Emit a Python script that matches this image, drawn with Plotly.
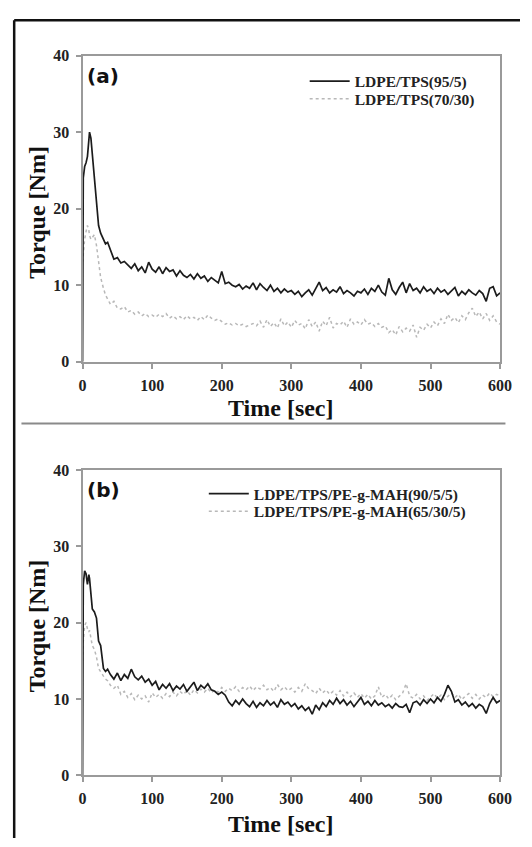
import plotly.graph_objects as go

# ---------------- data ----------------
TIME = [0, 1, 3, 5, 7, 9, 10, 12, 14, 17, 20, 23, 26, 30, 33, 36, 40,
        45, 50, 55, 60, 65, 70, 75, 80, 85, 90, 95, 100,
        105, 110, 115, 120, 125, 130, 135, 140, 145, 150, 155, 160, 165, 170, 175, 180, 185, 190, 195, 200,
        205, 210, 215, 220, 225, 230, 235, 240, 245, 250, 255, 260, 265, 270, 275, 280, 285, 290, 295, 300,
        305, 310, 315, 320, 325, 330, 335, 340, 345, 350, 355, 360, 365, 370, 375, 380, 385, 390, 395, 400,
        405, 410, 415, 420, 425, 430, 435, 440, 445, 450, 455, 460, 465, 470, 475, 480, 485, 490, 495, 500,
        505, 510, 515, 520, 525, 530, 535, 540, 545, 550, 555, 560, 565, 570, 575, 580, 585, 590, 595, 600]

LDPE_TPS_95_5 = [0, 24.0, 25.5, 26.0, 26.8, 29.0, 30.0, 29.2, 27.0, 24.0, 20.5, 17.8, 16.8, 16.0, 15.4, 15.6, 14.6,
    13.4, 13.6, 12.9, 13.1, 12.6, 12.2, 12.8, 11.9, 12.4, 11.6, 13.0, 12.1,
    11.7, 12.4, 11.5, 12.3, 11.8, 12.0, 11.2, 11.9, 11.3, 11.0, 11.4, 10.8, 11.5, 10.9, 11.2, 10.5, 11.0, 10.6, 10.3, 11.8,
    10.2, 10.4, 10.0, 9.8, 10.1, 9.5, 9.9, 9.6, 10.3, 9.4, 10.2, 9.7, 9.3, 10.0, 9.2, 9.6, 9.0, 9.5, 9.1, 9.3,
    8.8, 9.2, 8.5, 9.0, 9.4, 8.7, 9.6, 10.4, 9.3, 9.7, 9.0, 9.4, 9.1, 9.8, 8.9, 9.3, 9.0, 8.6, 9.2, 9.0,
    9.5, 8.8, 9.6, 9.2, 10.0, 9.1, 8.7, 10.9, 9.4, 8.8, 9.7, 10.4, 9.0, 10.2, 9.3, 9.6, 9.0, 9.8, 9.2, 9.5,
    8.9, 9.6, 9.1, 9.4, 8.8, 9.3, 9.7, 8.6, 9.2, 8.8, 9.4, 9.0, 8.7, 9.3, 8.9, 7.9, 9.6, 9.8, 8.6, 9.0]

LDPE_TPS_70_30 = [13.0, 14.5, 16.0, 17.0, 17.8, 17.2, 16.5, 16.0, 16.3, 16.6, 15.2, 13.2, 11.0, 9.6, 8.7, 8.2, 7.5,
    7.9, 7.0, 6.9, 7.2, 6.5, 6.7, 6.2, 6.5, 6.0, 6.3, 5.9, 6.1,
    5.8, 6.2, 5.9, 6.3, 5.7, 6.0, 5.6, 5.9, 5.5, 6.0, 5.6, 5.8, 5.4, 5.9, 5.5, 6.1, 5.7, 5.4, 5.6, 5.2,
    4.9, 5.1, 4.8, 5.0, 4.7, 4.9, 4.6, 4.8, 5.0, 4.7, 5.3, 4.5, 5.5, 4.6, 5.1, 4.4, 5.6, 4.7, 5.2, 4.5,
    5.4, 4.8, 5.0, 4.3, 5.5, 4.6, 5.2, 4.0, 5.3, 4.7, 5.8, 4.4, 5.0, 4.8, 5.3, 4.5, 5.6, 4.9, 5.2, 4.8,
    5.5, 4.9, 5.1, 4.6, 5.0, 4.5, 4.7, 3.8, 4.2, 3.5, 4.6, 3.9, 4.4, 4.0, 4.8, 3.2, 4.5, 4.1, 4.9, 4.4,
    5.2, 4.7, 5.6, 5.0, 6.2, 5.4, 5.8, 5.1, 6.0, 5.5, 6.4, 7.0, 5.9, 6.5, 5.6, 6.3, 5.4, 6.0, 5.2, 4.9]

MAH_90_5_5 = [0, 25.0, 26.8, 26.4, 25.0, 26.3, 25.8, 23.5, 21.8, 21.4, 20.6, 17.6, 17.0, 14.0, 13.6, 13.9, 13.2,
    12.6, 13.4, 12.4, 13.2, 12.7, 13.9, 12.9, 12.5, 13.0, 12.2, 12.6, 11.8,
    12.3, 11.2, 11.9, 11.4, 12.0, 11.1, 11.7, 11.3, 11.9, 11.0, 11.6, 12.2, 11.1, 11.8, 11.4, 12.0, 11.2, 11.0, 10.6, 10.9,
    10.5, 9.6, 9.1, 9.8, 9.3, 10.0, 9.4, 9.0, 9.7, 8.9, 9.5, 9.1, 9.8, 9.2, 9.6, 8.9, 9.9, 9.3, 9.6, 9.0,
    9.4, 8.7, 9.1, 8.5, 8.9, 8.0, 9.2, 8.6, 9.5, 9.0, 9.8, 9.3, 10.1, 9.4, 9.9, 9.2, 9.7, 9.0, 9.6, 10.2,
    9.3, 9.7, 9.1, 9.8, 9.2, 9.5, 9.0, 9.3, 8.8, 9.4, 9.0, 8.9, 9.3, 8.2, 9.5, 9.7, 9.2, 9.9, 9.4, 10.0,
    9.5, 10.2, 9.7, 10.6, 11.8, 11.0, 9.6, 9.9, 9.2, 9.6, 9.0, 9.4, 8.8, 9.3, 9.0, 8.1, 9.4, 10.2, 9.5, 9.8]

MAH_65_30_5 = [15.0, 17.5, 19.6, 20.0, 19.2, 18.8, 19.0, 18.2, 17.0, 16.5, 15.5, 14.0, 13.5, 13.0, 12.6, 12.4, 11.8,
    11.4, 11.8, 10.6, 11.0, 10.2, 10.7, 9.9, 10.5, 10.0, 10.4, 9.6, 10.8,
    10.2, 10.6, 10.1, 10.7, 10.3, 10.9, 10.4, 11.0, 10.6, 11.1, 10.5, 11.2, 10.8, 11.3, 10.9, 11.4, 10.8, 11.2, 10.9, 11.5,
    11.0, 11.4, 11.1, 11.6, 11.0, 11.5, 11.2, 11.7, 11.1, 11.6, 11.3, 11.8, 11.2, 11.5, 11.0, 11.9, 11.2, 11.6, 11.1, 11.4,
    10.9, 11.5, 11.0, 12.0, 11.3, 11.1, 10.7, 11.4, 10.8, 11.2, 10.6, 11.0, 10.5, 11.1, 10.4, 10.9, 10.3, 10.8, 10.2, 10.7,
    10.1, 10.6, 10.0, 10.4, 11.6, 10.2, 10.6, 10.0, 10.5, 9.9, 10.3, 10.8, 12.0, 10.4, 10.1, 10.6, 10.0, 10.4, 9.8, 10.3,
    10.7, 10.1, 10.5, 9.9, 10.4, 10.8, 10.2, 10.6, 9.9, 10.4, 10.7, 10.1, 10.6, 10.0, 10.5, 10.2, 10.8, 10.3, 10.6, 10.4]

for s in (LDPE_TPS_95_5, LDPE_TPS_70_30, MAH_90_5_5, MAH_65_30_5):
    if len(s) != len(TIME):
        raise ValueError(f"length mismatch {len(s)} vs {len(TIME)}")

X_TICKS = [0, 100, 200, 300, 400, 500, 600]
Y_TICKS = [0, 10, 20, 30, 40]

NAMES_A = ["LDPE/TPS(95/5)", "LDPE/TPS(70/30)"]
NAMES_B = ["LDPE/TPS/PE-g-MAH(90/5/5)", "LDPE/TPS/PE-g-MAH(65/30/5)"]

# ---------------- figure ----------------
W, H = 532, 847
def px(x):
    return x / W
def py(y):
    return 1 - y / H

DARK = dict(color="#1c1c1c", width=1.7)
LIGHT = dict(color="#b8b8b8", width=1.5, dash="dot")

fig = go.Figure()
# panel (a)
fig.add_trace(go.Scatter(x=TIME, y=LDPE_TPS_70_30, mode="lines", line=LIGHT, name=NAMES_A[1],
                         xaxis="x", yaxis="y", legend="legend2"))
fig.add_trace(go.Scatter(x=TIME, y=LDPE_TPS_95_5, mode="lines", line=DARK, name=NAMES_A[0],
                         xaxis="x", yaxis="y", legend="legend"))
# panel (b)
fig.add_trace(go.Scatter(x=TIME, y=MAH_65_30_5, mode="lines", line=LIGHT, name=NAMES_B[1],
                         xaxis="x2", yaxis="y2", legend="legend4"))
fig.add_trace(go.Scatter(x=TIME, y=MAH_90_5_5, mode="lines", line=DARK, name=NAMES_B[0],
                         xaxis="x2", yaxis="y2", legend="legend3"))

SERIF = "Liberation Serif, Times New Roman, serif"
tickfont = dict(family=SERIF, size=16, color="#222", weight="bold")
axis_common = dict(showgrid=False, zeroline=False, showline=True, mirror=True,
                   linecolor="#9a9a9a", linewidth=2, ticks="outside", ticklen=5,
                   tickwidth=1.5, tickcolor="#9a9a9a", tickfont=tickfont,
                   ticklabelstandoff=3)

xdom = [px(81), px(511.5)]
ya_dom = [py(361), py(48.5)]
yb_dom = [py(783), py(471.5)]

legend_font = dict(family=SERIF, size=15.5, color="#222", weight="bold")
def legend_at(x, y):
    return dict(x=px(x), y=py(y), xanchor="left", yanchor="middle",
                bgcolor="rgba(0,0,0,0)", borderwidth=0, itemwidth=40,
                font=legend_font)

fig.update_layout(
    width=W, height=H, autosize=False,
    margin=dict(l=0, r=0, t=0, b=0),
    paper_bgcolor="white", plot_bgcolor="white",
    xaxis=dict(domain=xdom, range=[0, 600], tickvals=X_TICKS, anchor="y", **axis_common),
    yaxis=dict(domain=ya_dom, range=[0, 40], tickvals=Y_TICKS, anchor="x", **axis_common),
    xaxis2=dict(domain=xdom, range=[0, 600], tickvals=X_TICKS, anchor="y2", **axis_common),
    yaxis2=dict(domain=yb_dom, range=[0, 40], tickvals=Y_TICKS, anchor="x2", **axis_common),
    legend=legend_at(310, 75),
    legend2=legend_at(310, 93),
    legend3=legend_at(206, 496),
    legend4=legend_at(206, 514),
    showlegend=True,
)

title_font = dict(family=SERIF, size=24, color="#111", weight="bold")
label_font = dict(family="DejaVu Sans", size=20, color="#111", weight="bold")
ann = []
for (xt_y, yt_y, lab_y, lab) in [(408, 208, 69, "(a)"), (833, 630, 492, "(b)")]:
    ann.append(dict(text="Time [sec]", x=px(286), y=py(xt_y), xref="paper", yref="paper",
                    xanchor="center", yanchor="middle", showarrow=False, font=title_font))
    ann.append(dict(text="Torque [Nm]", x=px(34), y=py(yt_y), xref="paper", yref="paper",
                    xanchor="center", yanchor="middle", showarrow=False, textangle=-90,
                    font=title_font))
    ann.append(dict(text=lab, x=px(102.5), y=py(lab_y), xref="paper", yref="paper",
                    xanchor="center", yanchor="middle", showarrow=False, font=label_font))
fig.update_layout(annotations=ann)

# outer frame (left and top) and the divider between the two panels
fig.update_layout(shapes=[
    dict(type="line", xref="paper", yref="paper", x0=px(10.5), x1=px(10.5), y0=0, y1=py(12.5),
         line=dict(color="#111", width=2.5)),
    dict(type="line", xref="paper", yref="paper", x0=px(10.5), x1=1, y0=py(12.5), y1=py(12.5),
         line=dict(color="#111", width=2.5)),
    dict(type="line", xref="paper", yref="paper", x0=px(18), x1=px(517), y0=py(424), y1=py(424),
         line=dict(color="#8a8a8a", width=2)),
])

fig.write_html("out.html")
